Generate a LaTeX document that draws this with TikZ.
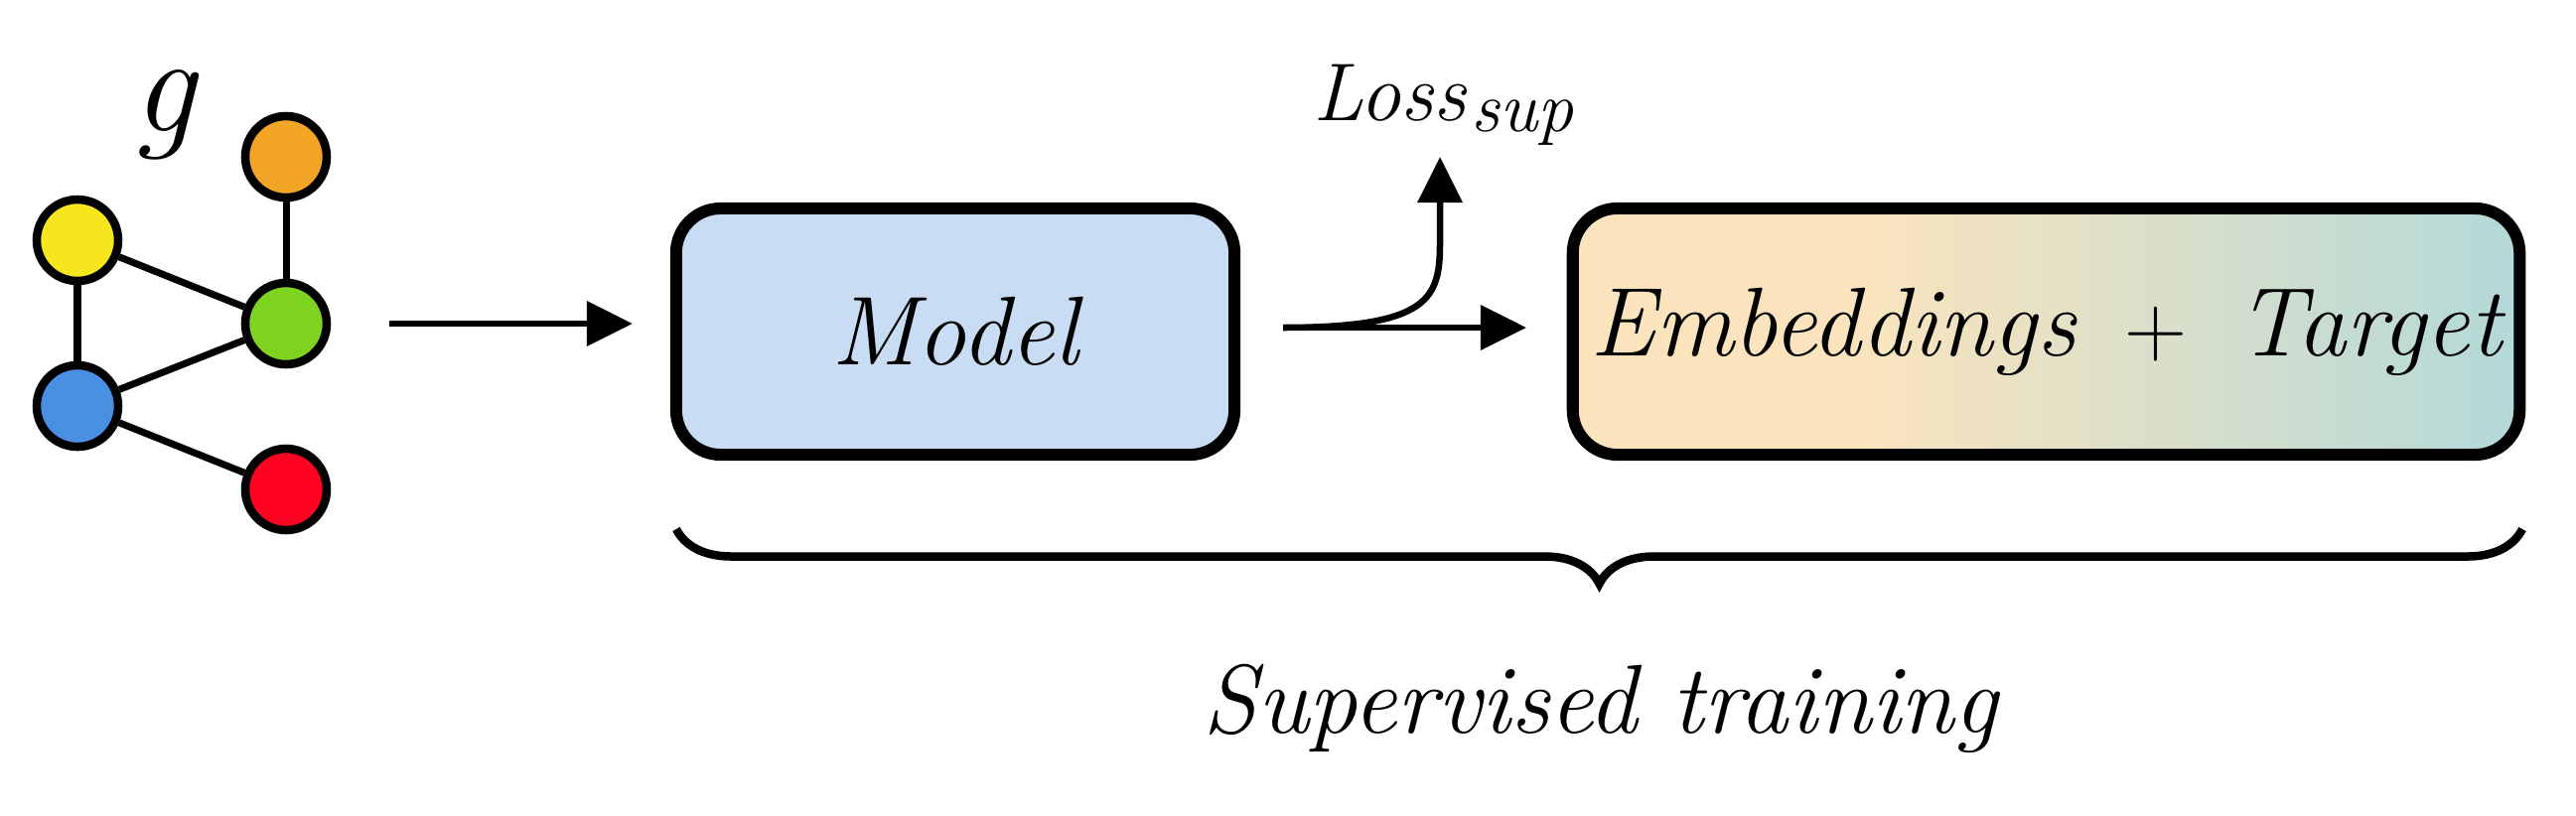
\documentclass[tikz,border=0pt]{standalone}
\usepackage{amsmath}
\usetikzlibrary{arrows.meta,decorations.pathreplacing}
\definecolor{cyel}{HTML}{F7E61E}
\definecolor{cora}{HTML}{F3A626}
\definecolor{cgre}{HTML}{7ED321}
\definecolor{cblu}{HTML}{4A90E2}
\definecolor{cred}{HTML}{FF0221}
\definecolor{modelfill}{HTML}{C8DDF4}
\definecolor{embL}{HTML}{FBE4BD}
\definecolor{embR}{HTML}{B3D9D9}
\pgfdeclarehorizontalshading{embshade}{100bp}{color(0bp)=(embL); color(25bp)=(embL); color(40bp)=(embL); color(75bp)=(embR); color(100bp)=(embR)}
\tikzset{
  gnode/.style={circle, draw=black, line width=0.085cm, minimum size=0.82cm, inner sep=0pt},
  gedge/.style={line width=0.07cm},
  bigbox/.style={draw=black, line width=0.12cm, rounded corners=0.45cm, minimum height=2.48cm, inner sep=0pt, font=\fontsize{28}{34}\selectfont\itshape},
  flow/.style={line width=0.065cm, -{Triangle[length=0.46cm, width=0.44cm]}},
}
\begin{document}
\begin{tikzpicture}[x=0.01cm, y=-0.01cm]
\useasboundingbox (0,0) rectangle (2594,821);
% graph
\node[gnode, fill=cora] (o) at (288,158) {};
\node[gnode, fill=cyel] (y) at (78,242) {};
\node[gnode, fill=cgre] (gr) at (288,326) {};
\node[gnode, fill=cblu] (b) at (78,409) {};
\node[gnode, fill=cred] (r) at (288,493) {};
\draw[gedge] (o) -- (gr);
\draw[gedge] (y) -- (gr);
\draw[gedge] (y) -- (b);
\draw[gedge] (b) -- (gr);
\draw[gedge] (b) -- (r);
\node[anchor=base, inner sep=0pt, font=\fontsize{40}{46}\selectfont\itshape] (glabel) at (165,132) {g};
% boxes
\node[bigbox, fill=modelfill, minimum width=5.62cm] (model) at (962,334) {Model};
\node[bigbox, shading=embshade, minimum width=9.53cm] (emb) at (2060.5,334) {Embeddings\enspace$+$\enspace Target};
% arrows
\coordinate (a1s) at (392,326);
\coordinate (a1e) at (637,326);
\draw[flow] (a1s) -- (a1e);
\coordinate (a2s) at (1292,330);
\coordinate (a2e) at (1537,330);
\draw[flow] (a2s) -- (a2e);
\node[anchor=base west, inner sep=0pt, font=\fontsize{23.5}{28}\selectfont\itshape] (loss) at (1322,121) {Loss\kern0.05cm\raisebox{-0.11cm}{\fontsize{20.5}{24}\selectfont sup}};
\coordinate (lossarr) at (1450,158);
\draw[flow] (a2s) .. controls (1440,330) and (1450,300) .. (1450,245) -- (lossarr);
% brace
\coordinate (brL) at (681,533);
\coordinate (brR) at (2540,533);
\draw[line width=0.085cm, decorate, decoration={brace, mirror, amplitude=0.55cm}] (brL) -- (brR);
\node[font=\fontsize{28}{34}\selectfont\itshape, anchor=base] (sup) at (1612,738) {Supervised training};
\end{tikzpicture}
\end{document}
